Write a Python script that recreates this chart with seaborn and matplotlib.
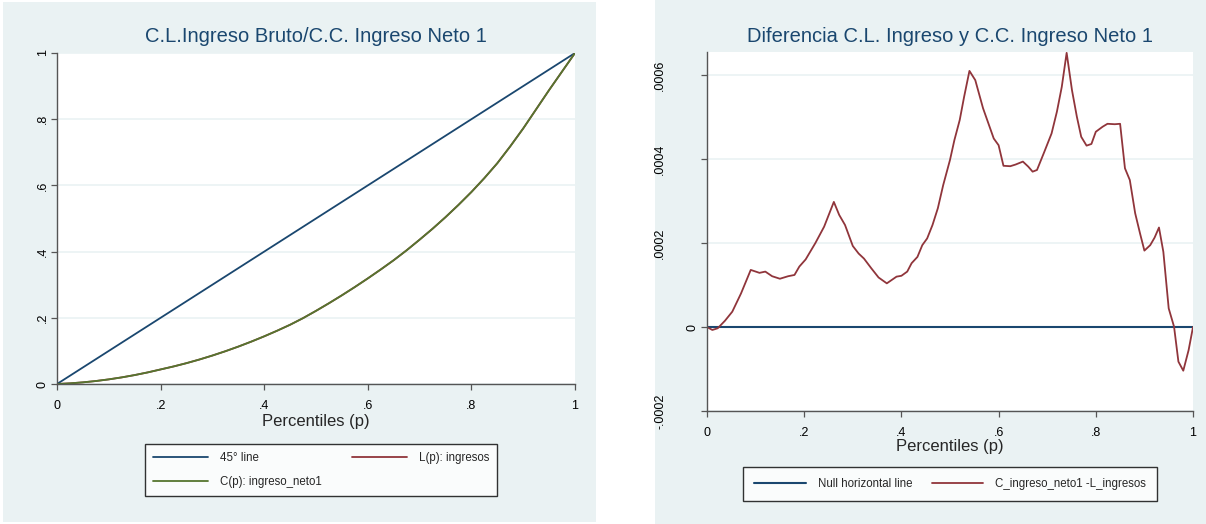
import matplotlib
matplotlib.use("Agg")
import matplotlib.pyplot as plt
from matplotlib.patches import Rectangle
import seaborn as sns
import pandas as pd

# ---------------- data ----------------
p_curve = [0, 0.025, 0.05, 0.075, 0.1, 0.125, 0.15, 0.175, 0.2, 0.225, 0.25, 0.275, 0.3,
           0.325, 0.35, 0.375, 0.4, 0.425, 0.45, 0.475, 0.5, 0.525, 0.55, 0.575, 0.6,
           0.625, 0.65, 0.675, 0.7, 0.725, 0.75, 0.775, 0.8, 0.825, 0.85, 0.875, 0.9,
           0.925, 0.95, 0.975, 1.0]
line45 = [0, 0.025, 0.05, 0.075, 0.1, 0.125, 0.15, 0.175, 0.2, 0.225, 0.25, 0.275, 0.3,
          0.325, 0.35, 0.375, 0.4, 0.425, 0.45, 0.475, 0.5, 0.525, 0.55, 0.575, 0.6,
          0.625, 0.65, 0.675, 0.7, 0.725, 0.75, 0.775, 0.8, 0.825, 0.85, 0.875, 0.9,
          0.925, 0.95, 0.975, 1.0]
L_ingresos = [0, 0.002, 0.005, 0.009, 0.014, 0.020, 0.027, 0.035, 0.044, 0.053, 0.063,
              0.074, 0.086, 0.099, 0.113, 0.128, 0.144, 0.161, 0.179, 0.199, 0.221, 0.244,
              0.268, 0.293, 0.319, 0.346, 0.374, 0.404, 0.436, 0.469, 0.504, 0.541, 0.580,
              0.622, 0.667, 0.718, 0.772, 0.830, 0.888, 0.944, 1.0]
C_ingreso_neto1 = [0, 0.002, 0.005, 0.009, 0.014, 0.020, 0.027, 0.035, 0.044, 0.053, 0.063,
                   0.074, 0.086, 0.099, 0.113, 0.128, 0.144, 0.161, 0.179, 0.199, 0.221, 0.244,
                   0.268, 0.293, 0.319, 0.346, 0.374, 0.404, 0.436, 0.469, 0.504, 0.541, 0.580,
                   0.622, 0.667, 0.718, 0.772, 0.830, 0.888, 0.944, 1.0]

p_diff = [0, 0.011, 0.022, 0.037, 0.052, 0.07, 0.09, 0.108, 0.12, 0.134, 0.15, 0.167,
          0.18, 0.19, 0.203, 0.223, 0.241, 0.261, 0.272, 0.284, 0.3, 0.312, 0.323,
          0.338, 0.353, 0.37, 0.39, 0.4, 0.412, 0.421, 0.433, 0.443, 0.453, 0.464,
          0.475, 0.486, 0.5, 0.509, 0.52, 0.529, 0.54, 0.552, 0.568, 0.579, 0.59,
          0.6, 0.61, 0.624, 0.635, 0.65, 0.661, 0.67, 0.679, 0.694, 0.709, 0.72,
          0.73, 0.74, 0.751, 0.761, 0.77, 0.781, 0.791, 0.8, 0.814, 0.824, 0.839,
          0.85, 0.86, 0.87, 0.881, 0.891, 0.9, 0.912, 0.921, 0.93, 0.939, 0.95,
          0.961, 0.97, 0.98, 0.991, 1.0]
diff_vals = [0, -0.000007, -0.000003, 0.000015, 0.0000365, 0.00008, 0.000136, 0.000129,
             0.000132, 0.000121, 0.000115, 0.000121, 0.000124, 0.000144, 0.000161, 0.0002,
             0.000239, 0.000298, 0.000267, 0.000243, 0.000193, 0.000175, 0.000163, 0.00014,
             0.000118, 0.000104, 0.00012, 0.000122, 0.000132, 0.000152, 0.000167, 0.000195,
             0.000211, 0.000243, 0.000283, 0.000338, 0.000398, 0.000445, 0.000493, 0.000548,
             0.00061, 0.000588, 0.000521, 0.000485, 0.000449, 0.000433, 0.000384, 0.000383,
             0.000387, 0.000394, 0.000382, 0.00037, 0.000374, 0.000417, 0.000461, 0.000513,
             0.000572, 0.000653, 0.000564, 0.000501, 0.000453, 0.000432, 0.000436, 0.000465,
             0.000477, 0.000484, 0.000483, 0.000484, 0.000378, 0.00035, 0.000271, 0.000223,
             0.000182, 0.000195, 0.000213, 0.000237, 0.000179, 0.0000444, 0.0000008,
             -0.0000825, -0.000104, -0.0000548, 0]
null_x = [0, 1]
null_y = [0, 0]

x_ticks = [0, 0.2, 0.4, 0.6, 0.8, 1.0]
x_ticklabels = ["0", ".2", ".4", ".6", ".8", "1"]
y1_ticks = [0, 0.2, 0.4, 0.6, 0.8, 1.0]
y1_ticklabels = ["0", ".2", ".4", ".6", ".8", "1"]
y2_ticks = [-0.0002, 0, 0.0002, 0.0004, 0.0006]
y2_ticklabels = ["-.0002", "0", ".0002", ".0004", ".0006"]

title_left = "C.L.Ingreso Bruto/C.C. Ingreso Neto 1"
title_right = "Diferencia C.L. Ingreso y C.C. Ingreso Neto 1"
xlabel = "Percentiles (p)"

# ---------------- style ----------------
sns.set_style("white")
plt.rcParams["font.family"] = ["Liberation Sans", "DejaVu Sans"]

NAVY = "#1A476F"
MAROON = "#90353B"
GREEN = "#55752F"
BG = "#EAF2F3"
GRID = "#EAF2F3"
SPINE = "#555555"
TICKFS = 9

fig = plt.figure(figsize=(12.06, 5.24), dpi=100)
fig.patch.set_facecolor("white")
fig.patches.append(Rectangle((3 / 1206, 2 / 524), 593 / 1206, 520 / 524,
                             transform=fig.transFigure, facecolor=BG, edgecolor="none", zorder=-10))
fig.patches.append(Rectangle((655 / 1206, 0), 551 / 1206, 1,
                             transform=fig.transFigure, facecolor=BG, edgecolor="none", zorder=-10))

ax1 = fig.add_axes([57 / 1206, 1 - 384 / 524, 518 / 1206, 331 / 524])
ax2 = fig.add_axes([707 / 1206, 1 - 411 / 524, 486 / 1206, 359 / 524])


def style_axes(ax):
    ax.set_facecolor("white")
    for s in ["top", "right"]:
        ax.spines[s].set_visible(False)
    for s in ["left", "bottom"]:
        ax.spines[s].set_color(SPINE)
        ax.spines[s].set_linewidth(1.0)
    ax.tick_params(axis="both", direction="out", length=4.3, width=0.9, color=SPINE,
                   labelsize=TICKFS, labelcolor="black", left=True, bottom=True)
    ax.tick_params(axis="x", pad=7.0)
    ax.grid(axis="y", color=GRID, linewidth=1.2)
    ax.grid(axis="x", visible=False)
    ax.set_axisbelow(True)
    for lab in ax.get_yticklabels():
        lab.set_rotation(90)
        lab.set_va("center")


# ---------------- left panel ----------------
df1 = pd.DataFrame({"p": p_curve, "l45": line45, "L": L_ingresos, "C": C_ingreso_neto1})
sns.lineplot(data=df1, x="p", y="l45", ax=ax1, color=NAVY, linewidth=1.3, label="45° line")
sns.lineplot(data=df1, x="p", y="L", ax=ax1, color=MAROON, linewidth=1.3, label="L(p): ingresos")
sns.lineplot(data=df1, x="p", y="C", ax=ax1, color=GREEN, linewidth=1.3, label="C(p): ingreso_neto1")
ax1.set_xlim(0, 1)
ax1.set_ylim(0, 1)
ax1.set_xticks(x_ticks)
ax1.set_xticklabels(x_ticklabels)
ax1.set_yticks(y1_ticks)
ax1.set_yticklabels(y1_ticklabels)
ax1.set_xlabel(xlabel, fontsize=12, labelpad=1.5)
ax1.set_ylabel("")
style_axes(ax1)
for t in ax1.yaxis.get_major_ticks():
    t.set_pad(1.5)
fig.text(316 / 1206, 1 - 37 / 524, title_left, ha="center", va="center", fontsize=14.5, color=NAVY)

h, l = ax1.get_legend_handles_labels()
order = [0, 2, 1]
ax1.get_legend().remove()
leg1 = fig.legend([h[i] for i in order], [l[i] for i in order], ncol=2,
                  loc="center", bbox_to_anchor=(321 / 1206, 1 - 470 / 524),
                  frameon=True, fancybox=False, edgecolor="black", facecolor="white",
                  fontsize=8.3, handlelength=4.8, columnspacing=2.6, labelspacing=1.1,
                  borderpad=0.7, handletextpad=1.0, borderaxespad=0)
leg1.get_frame().set_linewidth(1.0)

# ---------------- right panel ----------------
df2 = pd.DataFrame({"p": p_diff, "d": diff_vals})
dfn = pd.DataFrame({"p": null_x, "n": null_y})
sns.lineplot(data=dfn, x="p", y="n", ax=ax2, color=NAVY, linewidth=1.5, label="Null horizontal line")
sns.lineplot(data=df2, x="p", y="d", ax=ax2, color=MAROON, linewidth=1.3,
             label="C_ingreso_neto1 -L_ingresos", sort=False)
ax2.set_xlim(0, 1)
ax2.set_ylim(-0.0002, 0.000655)
ax2.set_xticks(x_ticks)
ax2.set_xticklabels(x_ticklabels)
ax2.set_yticks(y2_ticks)
ax2.set_yticklabels(y2_ticklabels)
ax2.set_xlabel(xlabel, fontsize=12, labelpad=0)
ax2.set_ylabel("")
style_axes(ax2)
for t, lab in zip(ax2.yaxis.get_major_ticks(), y2_ticklabels):
    t.set_pad(2.0 if lab == "0" else 25.0)
fig.text(950 / 1206, 1 - 37 / 524, title_right, ha="center", va="center", fontsize=14.5, color=NAVY)

h2, l2 = ax2.get_legend_handles_labels()
ax2.get_legend().remove()
leg2 = fig.legend(h2, l2, ncol=2, loc="center",
                  bbox_to_anchor=(950 / 1206, 1 - 484 / 524),
                  frameon=True, fancybox=False, edgecolor="black", facecolor="white",
                  fontsize=8.3, handlelength=4.5, columnspacing=1.7,
                  borderpad=0.95, handletextpad=1.0, borderaxespad=0)
leg2.get_frame().set_linewidth(1.0)

fig.savefig("out.png", dpi=100, facecolor=fig.get_facecolor())
